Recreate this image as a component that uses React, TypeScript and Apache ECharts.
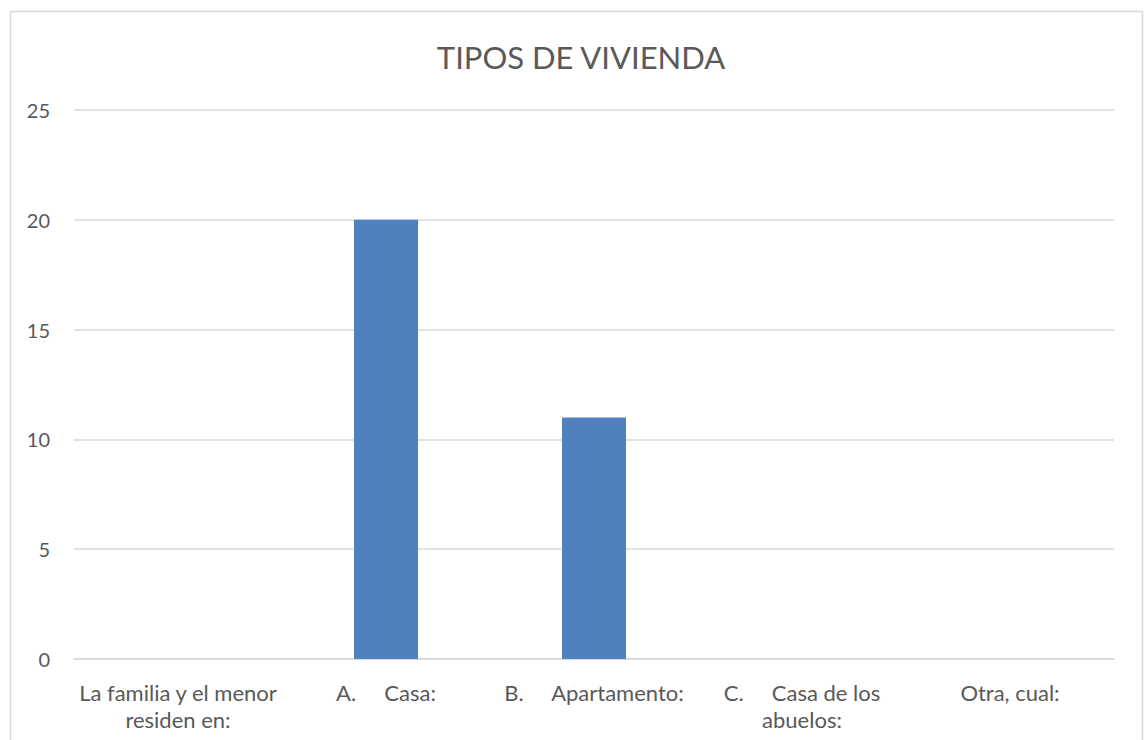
import React, { useEffect, useRef } from "react";
import * as echarts from "echarts";

const categories = [
  "La familia y el menor\nresiden en:",
  "A.     Casa:",
  "B.     Apartamento:",
  "C.     Casa de los\nabuelos:",
  "Otra, cual:",
];
const values = [null, 20, 11, null, null];
const yTicks = { min: 0, max: 25, interval: 5 };
const title = "TIPOS DE VIVIENDA";

export default function App() {
  const ref = useRef<HTMLDivElement>(null);
  useEffect(() => {
    if (!ref.current) return;
    const chart = echarts.init(ref.current, null, { renderer: "svg" });
    const font = "Lato, 'Noto Sans', sans-serif";
    chart.setOption({
      animation: false,
      backgroundColor: "#ffffff",
      title: {
        text: title,
        left: 576,
        textAlign: "center",
        top: 36,
        textStyle: { fontFamily: font, fontSize: 31, fontWeight: "normal", color: "#595959" },
      },
      graphic: [
        {
          type: "rect",
          shape: { x: 10.5, y: 11.5, width: 1132, height: 760 },
          style: { fill: "none", stroke: "#d9d9d9", lineWidth: 1.5 },
          silent: true,
        },
      ],
      grid: { left: 74, right: 33, top: 110, bottom: 81, containLabel: false },
      xAxis: {
        type: "category",
        data: categories,
        axisLine: { show: true, lineStyle: { color: "#d9d9d9", width: 1.5 } },
        axisTick: { show: false },
        axisLabel: {
          color: "#595959",
          fontFamily: font,
          fontSize: 22,
          lineHeight: 27,
          margin: 20,
          interval: 0,
          align: "center",
        },
      },
      yAxis: {
        type: "value",
        min: yTicks.min,
        max: yTicks.max,
        interval: yTicks.interval,
        axisLine: { show: false },
        axisTick: { show: false },
        splitLine: { lineStyle: { color: "#d9d9d9", width: 1.5 } },
        axisLabel: { color: "#595959", fontFamily: font, fontSize: 20, margin: 24 },
      },
      series: [
        {
          type: "bar",
          data: values,
          barWidth: 64,
          itemStyle: { color: "#4f81bd" },
        },
      ],
    });
    return () => chart.dispose();
  }, []);
  return (
    <div
      ref={ref}
      style={{ position: "fixed", left: 0, top: 0, width: 1147, height: 740 }}
    />
  );
}
